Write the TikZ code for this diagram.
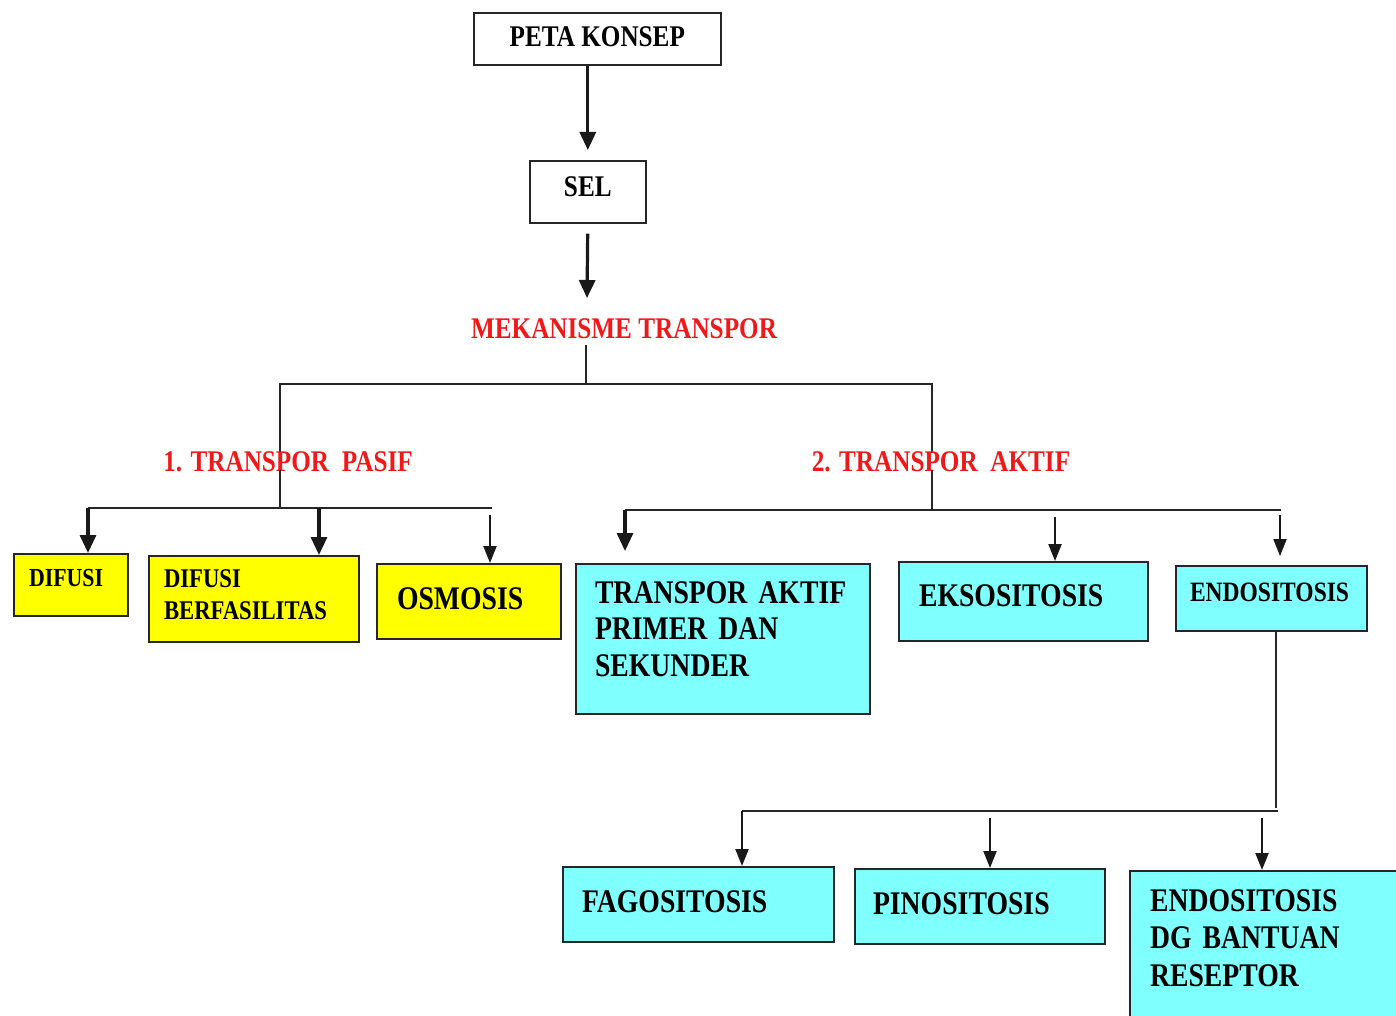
\documentclass[tikz,border=0pt]{standalone}
\usepackage{fontspec}
\newfontfamily\tnr{Liberation Serif}[FakeStretch=0.84]
\usetikzlibrary{arrows.meta}
\definecolor{ylw}{HTML}{FFFF00}
\definecolor{cyn}{HTML}{80FFFF}
\definecolor{redt}{HTML}{F01818}
\newcommand\myfs[2]{\tnr\bfseries\fontsize{#1}{#2}\selectfont}
\begin{document}
\begin{tikzpicture}[x=1pt,y=-1pt,
  box/.style={draw=black!85, line width=2pt, anchor=north west, align=left, inner ysep=0pt},
  yb/.style={box, fill=ylw},
  cb/.style={box, fill=cyn},
  wb/.style={draw=black!85, line width=1.6pt, anchor=north west, inner sep=0pt, align=center, font=\myfs{30}{34}},
  redlbl/.style={text=redt, font=\myfs{30}{34}, inner sep=0pt},
  conn/.style={line width=2.2pt, draw=black!85},
  bigarr/.style={line width=3.2pt, draw=black!90, -{Triangle[width=16pt,length=18pt]}},
  thinarr/.style={line width=2.2pt, draw=black!90, -{Triangle[width=13pt,length=17pt]}},
]
\useasboundingbox (0,0) rectangle (1396,1016);
\fill[white] (0,0) rectangle (1396,1016);

% top
\node[wb, minimum width=247pt, minimum height=52pt, text depth=4pt] (peta) at (473,12) {PETA KONSEP};
\node[wb, minimum width=116pt, minimum height=62pt, text depth=10pt] (sel) at (529,160) {SEL};
\node[redlbl] (mek) at (624,329) {MEKANISME TRANSPOR};
\coordinate (mektop) at (587,298);
\draw[bigarr, shorten >=10pt] (peta.south -| sel.north) -- (sel.north);
\draw[bigarr, shorten <=10pt] (sel.south) -- (mektop);

% split
\coordinate (j0) at (586,345);
\coordinate (j1) at (586,384);
\coordinate (jl) at (280,384);
\coordinate (jr) at (932,384);
\coordinate (jl2) at (280,508);
\coordinate (jr2) at (932,510);
\draw[conn] (j0) -- (j1);
\draw[conn] (jl2) -- (jl) -- (jr) -- (jr2);
\node[redlbl, fill=white] (pasif) at (288,462) {1. TRANSPOR\ \ PASIF};
\node[redlbl, fill=white] (aktif) at (941,462) {2. TRANSPOR\ \ AKTIF};
\draw[conn] (jl2) -- (280,470);
\draw[conn] (jr2) -- (932,470);

% pasif boxes
\node[yb, minimum width=114pt, minimum height=62pt, inner xsep=15pt, text width=84pt, text depth=14pt, font=\myfs{26}{30}] (dif) at (13,553) {DIFUSI};
\node[yb, minimum width=210pt, minimum height=86pt, inner xsep=15pt, text width=180pt, text depth=40pt, font=\myfs{27}{32}] (dfb) at (148,555) {DIFUSI\\BERFASILITAS};
\node[yb, minimum width=184pt, minimum height=75pt, inner xsep=20pt, text width=144pt, text depth=6pt, font=\myfs{33}{36}] (osm) at (376,563) {OSMOSIS};

\coordinate (lb1) at (88,508);
\coordinate (lb2) at (492,508);
\coordinate (la2) at (319,508);
\coordinate (la3) at (490,515);
\draw[conn] (lb1) -- (lb2);
\draw[bigarr] (lb1) -- (lb1 |- dif.north);
\draw[bigarr] (la2) -- (la2 |- dfb.north);
\draw[thinarr] (la3) -- (la3 |- osm.north);

% aktif boxes
\node[cb, minimum width=294pt, minimum height=150pt, inner xsep=19pt, text width=256pt, text depth=93pt, font=\myfs{33}{36.5}] (tpa) at (575,563) {\mbox{TRANSPOR AKTIF}\\\mbox{PRIMER DAN}\\SEKUNDER};
\node[cb, minimum width=249pt, minimum height=79pt, inner xsep=20pt, text width=209pt, text depth=12pt, font=\myfs{33}{36}] (eks) at (898,561) {EKSOSITOSIS};
\node[cb, minimum width=191pt, minimum height=65pt, inner xsep=14pt, text width=163pt, text depth=12pt, font=\myfs{28}{32}] (endo) at (1175,565) {ENDOSITOSIS};

\coordinate (rb1) at (625,510);
\coordinate (rb2) at (1281,510);
\coordinate (ra2) at (1055,517);
\coordinate (ra3) at (1280,515);
\draw[conn] (rb1) -- (rb2);
\draw[bigarr, shorten >=12pt] (rb1) -- (rb1 |- tpa.north);
\draw[thinarr] (ra2) -- (ra2 |- eks.north);
\draw[thinarr, shorten >=9pt] (ra3) -- (ra3 |- endo.north);

% endositosis children
\node[cb, minimum width=271pt, minimum height=75pt, inner xsep=19pt, text width=233pt, text depth=6pt, font=\myfs{33}{36}] (fago) at (562,866) {FAGOSITOSIS};
\node[cb, minimum width=250pt, minimum height=75pt, inner xsep=18pt, text width=214pt, text depth=6pt, font=\myfs{33}{36}] (pino) at (854,868) {PINOSITOSIS};
\node[cb, minimum width=280pt, minimum height=160pt, inner xsep=20pt, text width=240pt, text depth=101pt, font=\myfs{33}{37.5}] (endo2) at (1129,870) {ENDOSITOSIS\\\mbox{DG BANTUAN}\\RESEPTOR};

\coordinate (eb) at (1276,808);
\coordinate (bb1) at (742,811);
\coordinate (bb2) at (1278,811);
\coordinate (ba2) at (990,818);
\coordinate (ba3) at (1262,818);
\draw[conn] (endo.south -| eb) -- (eb);
\draw[conn] (bb1) -- (bb2);
\draw[thinarr] (bb1) -- (bb1 |- fago.north);
\draw[thinarr] (ba2) -- (ba2 |- pino.north);
\draw[thinarr] (ba3) -- (ba3 |- endo2.north);
\end{tikzpicture}
\end{document}
